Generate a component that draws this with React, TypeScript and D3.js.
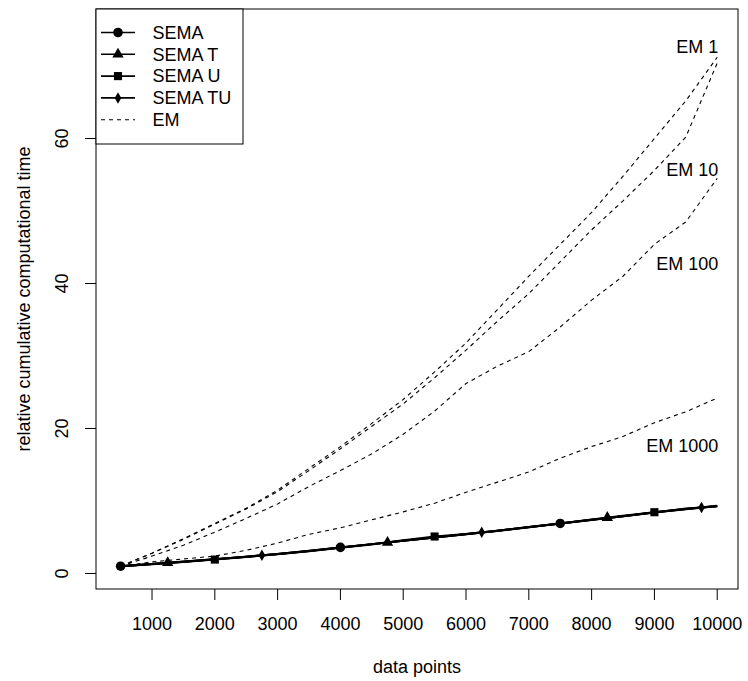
import React, { useEffect, useRef } from 'react';
import * as d3 from 'd3';

// x positions of the measurements (data points)
const xs = [500, 1000, 1500, 2000, 2500, 3000, 3500, 4000, 4500, 5000,
  5500, 6000, 6500, 7000, 7500, 8000, 8500, 9000, 9500, 10000];

// relative cumulative computational time
const sema = [1.0, 1.3, 1.62, 1.95, 2.3, 2.68, 3.1, 3.6, 4.05, 4.5, 4.95, 5.4, 5.87, 6.37, 6.9, 7.4, 7.9, 8.4, 8.85, 9.3];
const semaT = [1.0, 1.3, 1.65, 1.98, 2.32, 2.7, 3.12, 3.6, 4.05, 4.5, 4.97, 5.42, 5.9, 6.4, 6.9, 7.45, 7.95, 8.45, 8.9, 9.35];
const semaU = [1.0, 1.28, 1.6, 1.92, 2.28, 2.65, 3.05, 3.55, 4.0, 4.6, 5.1, 5.45, 5.9, 6.38, 6.88, 7.38, 7.9, 8.45, 8.9, 9.3];
const semaTU = [1.0, 1.3, 1.62, 1.95, 2.3, 2.7, 3.1, 3.58, 4.05, 4.5, 4.95, 5.45, 5.9, 6.4, 6.9, 7.4, 7.9, 8.4, 8.95, 9.25];

const em1 = [1.0, 2.8, 4.8, 6.9, 9.0, 11.5, 14.5, 17.5, 20.7, 24.0, 27.8, 31.8, 36.4, 41.0, 45.4, 49.8, 54.8, 60.0, 65.2, 71.2];
const em10 = [1.0, 2.8, 4.7, 6.8, 8.9, 11.3, 14.2, 17.2, 20.3, 23.4, 27.0, 30.8, 34.8, 38.6, 43.0, 47.4, 51.4, 55.6, 60.2, 70.4];
const em100 = [1.0, 2.4, 3.9, 5.7, 7.6, 9.6, 12.0, 14.2, 16.5, 19.2, 22.4, 26.2, 28.6, 30.6, 34.0, 37.7, 41.0, 45.4, 48.5, 54.5];
const em1000 = [1.0, 1.6, 2.0, 2.4, 3.2, 4.2, 5.4, 6.3, 7.4, 8.5, 9.7, 11.2, 12.6, 14.0, 15.9, 17.5, 18.9, 20.8, 22.3, 24.2];

// marker positions on the SEMA lines
const semaMarkX = [500, 4000, 7500];
const semaMarkY = [1.0, 3.6, 6.9];
const semaTMarkX = [1250, 4750, 8250];
const semaTMarkY = [1.47, 4.28, 7.7];
const semaUMarkX = [2000, 5500, 9000];
const semaUMarkY = [1.92, 5.1, 8.45];
const semaTUMarkX = [2750, 6250, 9750];
const semaTUMarkY = [2.5, 5.68, 9.1];

// EM curve labels
const emLabels = ['EM 1', 'EM 10', 'EM 100', 'EM 1000'];
const emLabelX = [10000, 10000, 10000, 10000];
const emLabelY = [72.7, 55.7, 42.7, 17.7];

const xTicks = [1000, 2000, 3000, 4000, 5000, 6000, 7000, 8000, 9000, 10000];
const yTicks = [0, 20, 40, 60];

const legendNames = ['SEMA', 'SEMA T', 'SEMA U', 'SEMA TU', 'EM'];
const legendShapes = ['circle', 'triangle', 'square', 'diamond', 'none'];

const FONT = '"Liberation Sans", Arial, Helvetica, sans-serif';

const App = () => {
  const svgRef = useRef(null);
  const width = 748;
  const height = 681;

  useEffect(() => {
    const svg = d3.select(svgRef.current);
    svg.selectAll('*').remove();

    const box = { left: 96, right: 738, top: 9, bottom: 589 };

    const xScale = d3.scaleLinear().domain([108, 10331]).range([box.left, box.right]);
    const yScale = d3.scaleLinear().domain([-2.14, 77.86]).range([box.bottom, box.top]);

    svg.append('rect')
      .attr('x', 0).attr('y', 0)
      .attr('width', width).attr('height', height)
      .attr('fill', 'white');

    const line = d3.line<number>()
      .x((d, i) => xScale(xs[i]))
      .y((d) => yScale(d));

    // EM curves, dashed
    [em1, em10, em100, em1000].forEach((s) => {
      svg.append('path')
        .attr('d', line(s))
        .attr('fill', 'none')
        .attr('stroke', 'black')
        .attr('stroke-width', 1.1)
        .attr('stroke-dasharray', '4,4');
    });

    // SEMA curves, solid
    [sema, semaT, semaU, semaTU].forEach((s) => {
      svg.append('path')
        .attr('d', line(s))
        .attr('fill', 'none')
        .attr('stroke', 'black')
        .attr('stroke-width', 2);
    });

    const symbolFor = (shape) => {
      if (shape === 'circle') return d3.symbol(d3.symbolCircle, 72)();
      if (shape === 'triangle') return d3.symbol(d3.symbolTriangle, 56)();
      if (shape === 'square') return d3.symbol(d3.symbolSquare, 66)();
      return d3.symbol(d3.symbolDiamond, 38)();
    };

    const marks = [
      { xs: semaMarkX, ys: semaMarkY, shape: 'circle' },
      { xs: semaTMarkX, ys: semaTMarkY, shape: 'triangle' },
      { xs: semaUMarkX, ys: semaUMarkY, shape: 'square' },
      { xs: semaTUMarkX, ys: semaTUMarkY, shape: 'diamond' },
    ];
    marks.forEach((m) => {
      svg.selectAll(null)
        .data(m.xs)
        .enter()
        .append('path')
        .attr('d', symbolFor(m.shape))
        .attr('transform', (d, i) => `translate(${xScale(d)},${yScale(m.ys[i])})`)
        .attr('fill', 'black');
    });

    // labels next to the EM curve ends
    svg.selectAll('text.emlab')
      .data(emLabels)
      .enter()
      .append('text')
      .attr('class', 'emlab')
      .attr('x', (d, i) => xScale(emLabelX[i]) + 1)
      .attr('y', (d, i) => yScale(emLabelY[i]) + 6.5)
      .attr('text-anchor', 'end')
      .style('font-family', FONT)
      .style('font-size', '18px')
      .text((d) => d);

    // plot box
    svg.append('rect')
      .attr('x', box.left).attr('y', box.top)
      .attr('width', box.right - box.left)
      .attr('height', box.bottom - box.top)
      .attr('fill', 'none')
      .attr('stroke', 'black')
      .attr('stroke-width', 1);

    // x axis
    const xAxis = svg.append('g');
    xAxis.selectAll('line')
      .data(xTicks)
      .enter()
      .append('line')
      .attr('x1', (d) => xScale(d)).attr('x2', (d) => xScale(d))
      .attr('y1', box.bottom).attr('y2', box.bottom + 11)
      .attr('stroke', 'black');
    xAxis.selectAll('text')
      .data(xTicks)
      .enter()
      .append('text')
      .attr('x', (d) => xScale(d))
      .attr('y', 629.5)
      .attr('text-anchor', 'middle')
      .style('font-family', FONT)
      .style('font-size', '18px')
      .text((d) => d);

    // y axis
    const yAxis = svg.append('g');
    yAxis.selectAll('line')
      .data(yTicks)
      .enter()
      .append('line')
      .attr('x1', box.left - 11).attr('x2', box.left)
      .attr('y1', (d) => yScale(d)).attr('y2', (d) => yScale(d))
      .attr('stroke', 'black');
    yAxis.selectAll('text')
      .data(yTicks)
      .enter()
      .append('text')
      .attr('transform', (d) => `translate(68.3,${yScale(d)}) rotate(-90)`)
      .attr('text-anchor', 'middle')
      .style('font-family', FONT)
      .style('font-size', '18px')
      .text((d) => d);

    // axis titles
    svg.append('text')
      .attr('x', (box.left + box.right) / 2)
      .attr('y', 672.5)
      .attr('text-anchor', 'middle')
      .style('font-family', FONT)
      .style('font-size', '18px')
      .text('data points');

    svg.append('text')
      .attr('transform', `translate(30,${(box.top + box.bottom) / 2}) rotate(-90)`)
      .attr('text-anchor', 'middle')
      .style('font-family', FONT)
      .style('font-size', '18px')
      .text('relative cumulative computational time');

    // legend
    const legend = svg.append('g');
    legend.append('rect')
      .attr('x', box.left).attr('y', box.top)
      .attr('width', 147).attr('height', 135)
      .attr('fill', 'white')
      .attr('stroke', 'black');

    legendNames.forEach((name, i) => {
      const cy = 32.5 + i * 21.8;
      legend.append('line')
        .attr('x1', 101).attr('x2', 135)
        .attr('y1', cy).attr('y2', cy)
        .attr('stroke', 'black')
        .attr('stroke-width', legendShapes[i] === 'none' ? 1.1 : 1.6)
        .attr('stroke-dasharray', legendShapes[i] === 'none' ? '4,4' : null);
      if (legendShapes[i] !== 'none') {
        legend.append('path')
          .attr('d', symbolFor(legendShapes[i]))
          .attr('transform', `translate(118,${cy})`)
          .attr('fill', 'black');
      }
      legend.append('text')
        .attr('x', 152.5)
        .attr('y', cy + 6.3)
        .style('font-family', FONT)
        .style('font-size', '18px')
        .text(name);
    });
  }, []);

  return (
    <svg ref={svgRef} width={width} height={height}
      style={{ position: 'absolute', left: 0, top: 0 }}></svg>
  );
};

export default App;
